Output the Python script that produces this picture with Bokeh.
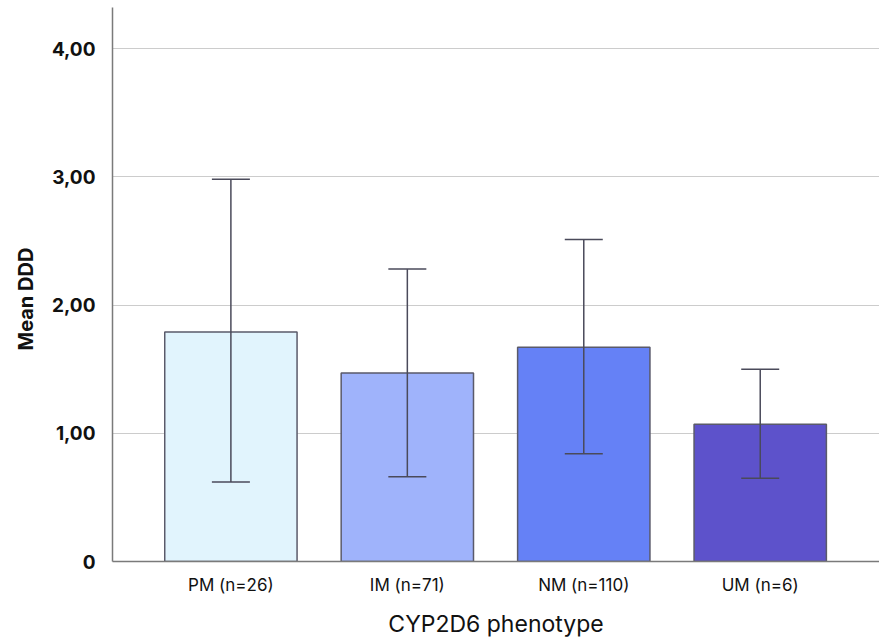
from bokeh.plotting import figure
from bokeh.models import FixedTicker, Range1d, ColumnDataSource, Whisker, TeeHead, Title
from bokeh.embed import file_html
from bokeh.resources import INLINE

categories = ["PM (n=26)", "IM (n=71)", "NM (n=110)", "UM (n=6)"]
mean_ddd = [1.79, 1.47, 1.67, 1.07]
err_upper = [2.98, 2.28, 2.51, 1.50]
err_lower = [0.62, 0.66, 0.84, 0.65]
bar_colors = ["#e1f4fd", "#9fb3fb", "#6581f6", "#5d52cb"]
y_ticks = [0, 1, 2, 3, 4]
y_tick_labels = ["0", "1,00", "2,00", "3,00", "4,00"]
y_title = "Mean DDD"
x_title = "CYP2D6 phenotype"

xpos = list(range(len(categories)))
src = ColumnDataSource(dict(x=xpos, top=mean_ddd, upper=err_upper, lower=err_lower,
                            color=bar_colors, label=categories))

FONT = "Inter"

p = figure(width=879, height=640, output_backend="svg", toolbar_location=None,
           x_range=Range1d(-0.671, 3.676), y_range=Range1d(0, 4.32),
           min_border_left=111, min_border_right=0, min_border_top=7, min_border_bottom=79)
p.outline_line_color = None
p.background_fill_color = "white"

p.vbar(x="x", top="top", bottom=0, width=0.75, source=src, fill_color="color",
       line_color="#5a5a6a", line_width=1.5)

w = Whisker(base="x", upper="upper", lower="lower", source=src, level="annotation",
            line_color="#4a4a5a", line_width=1.5,
            upper_head=TeeHead(size=38, line_color="#4a4a5a", line_width=1.5),
            lower_head=TeeHead(size=38, line_color="#4a4a5a", line_width=1.5))
p.add_layout(w)

p.xgrid.grid_line_color = None
p.ygrid.grid_line_color = "#cccccc"
p.ygrid.grid_line_width = 1
p.ygrid.ticker = FixedTicker(ticks=y_ticks)

p.yaxis.ticker = FixedTicker(ticks=y_ticks)
p.yaxis.major_label_overrides = {t: l for t, l in zip(y_ticks, y_tick_labels)}
p.xaxis.ticker = FixedTicker(ticks=xpos)
p.xaxis.major_label_overrides = {x: l for x, l in zip(xpos, categories)}

for ax in (p.xaxis, p.yaxis):
    ax.axis_line_color = "#7a7a7a"
    ax.axis_line_width = 1.5
    ax.major_tick_line_color = None
    ax.minor_tick_line_color = None
    ax.major_label_text_font = FONT
    ax.major_label_text_color = "#111111"
    ax.axis_label_text_font = FONT
    ax.axis_label_text_font_style = "normal"
    ax.axis_label_text_color = "#111111"

p.yaxis.major_label_text_font_size = "19px"
p.yaxis.major_label_text_font_style = "bold"
p.yaxis.major_label_standoff = 11
p.xaxis.major_label_text_font_size = "17px"
p.xaxis.major_label_standoff = 7

ytitle = Title(text=y_title, align="left", offset=211, standoff=22,
               text_font=FONT, text_font_size="20px", text_font_style="bold",
               text_color="#111111")
p.add_layout(ytitle, "left")

p.xaxis.axis_label = x_title
p.xaxis.axis_label_text_font_size = "23px"
p.xaxis.axis_label_standoff = 12

open("out.html", "w").write(file_html(p, INLINE))
